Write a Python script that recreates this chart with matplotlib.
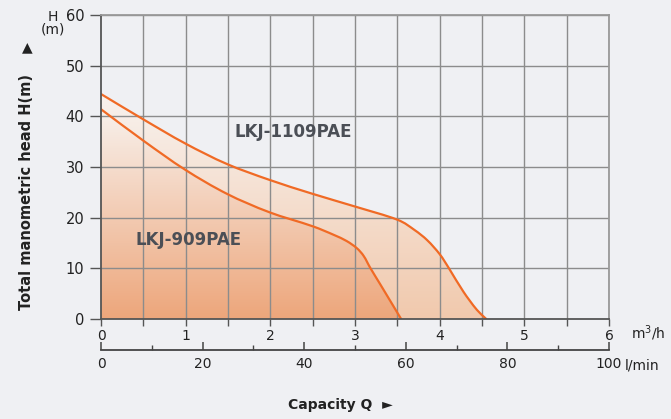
import numpy as np
import matplotlib
matplotlib.use("Agg")
import matplotlib.pyplot as plt
from matplotlib.colors import LinearSegmentedColormap
from matplotlib.path import Path
from matplotlib.patches import PathPatch

# ---- data ----
q_1109 = [0, 0.5, 1, 1.5, 2, 2.5, 3, 3.5, 3.7, 3.85, 4.0, 4.11, 4.28, 4.44, 4.55]
h_1109 = [44.4, 39.4, 34.6, 30.5, 27.4, 24.7, 22.2, 19.6, 17.6, 15.6, 12.8, 10.0, 5.4, 1.8, 0]
q_909 = [0, 0.5, 1, 1.5, 2, 2.5, 2.75, 2.9, 3.02, 3.1, 3.18, 3.3, 3.545]
h_909 = [41.4, 35.2, 29.4, 24.6, 21.0, 18.3, 16.6, 15.4, 14.0, 12.5, 10.1, 6.8, 0]
name_1109 = "LKJ-1109PAE"
name_909 = "LKJ-909PAE"
x_ticks_m3h = [0, 1, 2, 3, 4, 5, 6]
x_ticks_lmin = [0, 20, 40, 60, 80, 100]
y_ticks = [0, 10, 20, 30, 40, 50, 60]

BG = "#eff0f3"
LINE = "#f06a25"
TXT = "#222222"
GRID = "#8c8c8c"

W, H = 671, 419
fig = plt.figure(figsize=(W / 100, H / 100), dpi=100, facecolor=BG)
plt.rcParams["font.family"] = ["DejaVu Sans"]

left, right, top, bottom = 101, 609, 15, 319
ax = fig.add_axes([left / W, 1 - bottom / H, (right - left) / W, (bottom - top) / H])
ax.set_facecolor(BG)
ax.set_xlim(0, 6)
ax.set_ylim(0, 60)

# grid
for xv in np.arange(0.5, 6.01, 0.5):
    ax.axvline(xv, color=GRID, lw=1.0, zorder=3)
for yv in range(10, 61, 10):
    ax.axhline(yv, color=GRID, lw=1.0, zorder=3)


def smooth_path(q, h, close=False):
    """Cubic Bezier path (Catmull-Rom style control points) through the read points."""
    p = np.column_stack([q, h]).astype(float)
    n = len(p)
    verts = [tuple(p[0])]
    codes = [Path.MOVETO]
    for i in range(n - 1):
        p0 = p[i - 1] if i > 0 else p[i]
        p1, p2 = p[i], p[i + 1]
        p3 = p[i + 2] if i + 2 < n else p[i + 1]
        d1 = np.linalg.norm(p2 - p1)
        t1 = (p2 - p0) / max(np.linalg.norm(p2 - p0), 1e-9) * d1 / 3.0
        t2 = (p3 - p1) / max(np.linalg.norm(p3 - p1), 1e-9) * d1 / 3.0
        verts += [tuple(p1 + t1), tuple(p2 - t2), tuple(p2)]
        codes += [Path.CURVE4] * 3
    if close:
        verts += [(p[0][0], 0), (p[0][0], 0)]
        codes += [Path.LINETO, Path.CLOSEPOLY]
    return Path(verts, codes)


def gradient_fill(q, h, c_top, c_bot, zorder):
    patch = PathPatch(smooth_path(q, h, close=True), facecolor="none", edgecolor="none")
    ax.add_patch(patch)
    cmap = LinearSegmentedColormap.from_list("g", [c_bot, c_top])
    grad = np.linspace(0, 1, 256).reshape(-1, 1)
    im = ax.imshow(grad, cmap=cmap, origin="lower", aspect="auto",
                   extent=[0, 6, 0, max(h)], zorder=zorder, interpolation="bicubic")
    im.set_clip_path(patch)


gradient_fill(q_1109, h_1109, "#f8f2ee", "#f1c9ad", 1)
gradient_fill(q_909, h_909, "#f8f1ec", "#eda67b", 2)
ax.set_xlim(0, 6)
ax.set_ylim(0, 60)

for q, h in [(q_1109, h_1109), (q_909, h_909)]:
    ax.add_patch(PathPatch(smooth_path(q, h), facecolor="none", edgecolor=LINE,
                           lw=1.6, zorder=4, capstyle="round", joinstyle="round"))

for s in ["left", "bottom"]:
    ax.spines[s].set_color("#555555")
    ax.spines[s].set_linewidth(1.3)
for s in ["top", "right"]:
    ax.spines[s].set_color("#999999")
    ax.spines[s].set_linewidth(1.3)
for s in ax.spines.values():
    s.set_zorder(5)

ax.set_xticks(x_ticks_m3h)
ax.set_xticks(np.arange(0.5, 6, 1.0), minor=True)
ax.set_yticks(y_ticks)
ax.tick_params(axis="x", which="both", length=5, width=1, color="#555555",
               labelsize=10, labelcolor=TXT, pad=2)
ax.tick_params(axis="y", length=8, width=1, color="#555555",
               labelsize=10.5, labelcolor=TXT, pad=4)

ax.text(2.27, 36.9, name_1109, fontsize=12, fontweight="bold", color="#4b4f56",
        ha="center", va="center", zorder=6)
ax.text(1.04, 15.5, name_909, fontsize=12, fontweight="bold", color="#4b4f56",
        ha="center", va="center", zorder=6)

# unit labels
fig.text(631 / W, 1 - 333 / H, "m$^3$/h", fontsize=10, color=TXT, ha="left", va="center")
fig.text(53 / W, 1 - 23 / H, "H\n(m)", fontsize=10, color=TXT, ha="center", va="center",
         linespacing=0.85)

# second axis (l/min)
ax2 = fig.add_axes([left / W, 1 - 350 / H, (right - left) / W, 0.0001])
ax2.set_facecolor("none")
ax2.set_xlim(0, 100)
for s in ["left", "right", "top"]:
    ax2.spines[s].set_visible(False)
ax2.spines["bottom"].set_color("#444444")
ax2.spines["bottom"].set_linewidth(1.3)
ax2.set_yticks([])
ax2.set_xticks(x_ticks_lmin)
ax2.set_xticks(np.arange(10, 100, 20), minor=True)
ax2.tick_params(axis="x", which="major", direction="in", length=6, width=1.1,
                color="#444444", labelsize=10, labelcolor=TXT, pad=5)
ax2.tick_params(axis="x", which="minor", direction="in", length=3.5, width=1.0,
                color="#444444")
fig.text(625 / W, 1 - 365 / H, "l/min", fontsize=10, color=TXT, ha="left", va="center")

# axis titles
fig.text(340 / W, 1 - 405 / H, "Capacity Q  \u25BA", fontsize=10, fontweight="bold",
         color=TXT, ha="center", va="center")
fig.text(27 / W, 1 - 192 / H, "Total manometric head H(m)", fontsize=10.5, fontweight="bold",
         color=TXT, ha="center", va="center", rotation=90)
fig.text(27 / W, 1 - 47 / H, "\u25B2", fontsize=10, color=TXT, ha="center", va="center")

fig.savefig("out.png", dpi=100, facecolor=BG)
